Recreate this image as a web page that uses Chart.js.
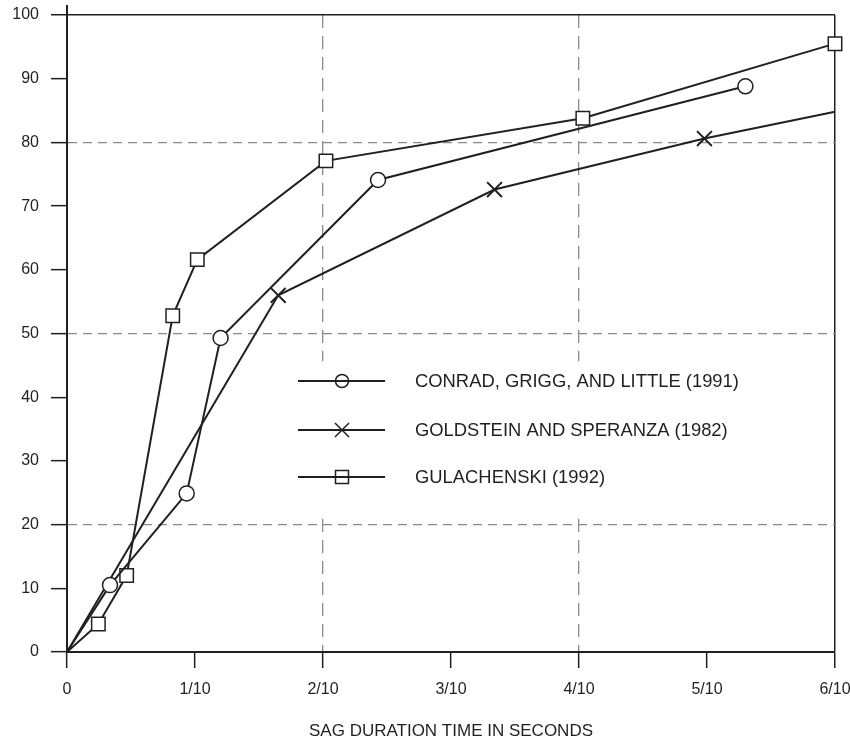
<!DOCTYPE html>
<html>
<head>
<meta charset="utf-8">
<script src="https://cdn.jsdelivr.net/npm/chart.js@4.4.1/dist/chart.umd.min.js"></script>
<style>
  html, body { margin: 0; padding: 0; background: #ffffff; }
  #wrap { width: 850px; height: 740px; position: relative; }
</style>
</head>
<body>
<div id="wrap"><canvas id="c"></canvas></div>
<script>
// ---- Data ----
const seriesNames = [
  'CONRAD, GRIGG, AND LITTLE (1991)',
  'GOLDSTEIN AND SPERANZA (1982)',
  'GULACHENSKI (1992)'
];
const conradX = [0, 0.0336, 0.0935, 0.120, 0.243, 0.530];
const conradY = [0, 10.5, 24.9, 49.3, 74.1, 88.8];

const goldsteinX = [0, 0.165, 0.334, 0.498, 0.6];
const goldsteinY = [0, 56.0, 72.6, 80.6, 84.8];

const gulachenskiX = [0, 0.0245, 0.0466, 0.0826, 0.1018, 0.2023, 0.403, 0.6];
const gulachenskiY = [0, 4.4, 12.0, 52.8, 61.6, 77.1, 83.8, 95.5];

const xTickLabels = ['0', '1/10', '2/10', '3/10', '4/10', '5/10', '6/10'];
const xDashedTicks = ['2/10', '4/10'];
const yDashedValues = [20, 50, 80];
const xTitle = 'SAG DURATION TIME IN SECONDS';

// ---- Styling ----
const INK = '#231f20';
const GRID = '#8a8a8a';
const FONT = "'Liberation Sans', Arial, Helvetica, sans-serif";

function toPoints(xs, ys) { return xs.map((x, i) => ({ x: x, y: ys[i] })); }

const legendPlugin = {
  id: 'customLegend',
  beforeDatasetsDraw(chart) {
    const ctx = chart.ctx;
    ctx.save();
    ctx.fillStyle = '#ffffff';
    ctx.fillRect(290, 361, 440, 157);
    ctx.restore();
  },
  afterDraw(chart) {
    const ctx = chart.ctx;
    const area = chart.chartArea;
    ctx.save();
    ctx.strokeStyle = INK;
    ctx.lineWidth = 2;
    ctx.beginPath();
    ctx.moveTo(area.left, area.top - 10);
    ctx.lineTo(area.left, area.top);
    ctx.stroke();

    const rows = [381, 430, 477];
    const styles = ['circle', 'crossRot', 'rect'];
    ctx.font = '18.4px ' + FONT;
    ctx.textBaseline = 'middle';
    ctx.textAlign = 'left';
    rows.forEach((y, i) => {
      ctx.strokeStyle = INK;
      ctx.lineWidth = 2;
      ctx.beginPath();
      ctx.moveTo(298, y);
      ctx.lineTo(385, y);
      ctx.stroke();
      const mx = 342;
      ctx.lineWidth = 1.5;
      ctx.beginPath();
      if (styles[i] === 'circle') {
        ctx.arc(mx, y, 6.5, 0, Math.PI * 2);
      } else if (styles[i] === 'crossRot') {
        ctx.moveTo(mx - 7, y - 7); ctx.lineTo(mx + 7, y + 7);
        ctx.moveTo(mx - 7, y + 7); ctx.lineTo(mx + 7, y - 7);
      } else {
        ctx.rect(mx - 6.5, y - 6.5, 13, 13);
      }
      ctx.stroke();
      ctx.fillStyle = INK;
      ctx.fillText(seriesNames[i], 415, y + 1);
    });
    ctx.restore();
  }
};

const commonDs = {
  showLine: true,
  borderColor: INK,
  borderWidth: 2,
  tension: 0,
  pointBorderColor: INK,
  pointBackgroundColor: '#ffffff',
  pointBorderWidth: 1.5,
  clip: false
};

const chart = new Chart(document.getElementById('c'), {
  type: 'scatter',
  data: {
    datasets: [
      Object.assign({}, commonDs, {
        label: seriesNames[0],
        data: toPoints(conradX, conradY),
        pointStyle: 'circle',
        pointRadius: ctx => ctx.dataIndex === 0 ? 0 : 7.5
      }),
      Object.assign({}, commonDs, {
        label: seriesNames[1],
        data: toPoints(goldsteinX, goldsteinY),
        pointStyle: 'crossRot',
        pointBorderWidth: 2,
        pointRadius: ctx => (ctx.dataIndex === 0 || ctx.dataIndex === goldsteinX.length - 1) ? 0 : 10.5
      }),
      Object.assign({}, commonDs, {
        label: seriesNames[2],
        data: toPoints(gulachenskiX, gulachenskiY),
        pointStyle: 'rect',
        pointRadius: ctx => ctx.dataIndex === 0 ? 0 : 9.5
      })
    ]
  },
  options: {
    responsive: true,
    maintainAspectRatio: false,
    animation: false,
    layout: { padding: { top: 15, right: 15, left: 0, bottom: 0 } },
    plugins: {
      legend: { display: false },
      tooltip: { enabled: false }
    },
    scales: {
      x: {
        type: 'linear',
        min: 0,
        max: 0.6,
        afterFit: s => { s.height = 88; s.paddingLeft = 0; s.paddingRight = 0; },
        ticks: {
          stepSize: 0.1,
          autoSkip: false,
          maxRotation: 0,
          padding: 12,
          color: INK,
          font: { family: FONT, size: 16 },
          callback: (v, i) => xTickLabels[i]
        },
        grid: {
          color: ctx => {
            const lbl = xTickLabels[ctx.index];
            if (xDashedTicks.includes(lbl)) return GRID;
            if (ctx.index === xTickLabels.length - 1) return INK;
            return 'rgba(0,0,0,0)';
          },
          lineWidth: ctx => ctx.index === xTickLabels.length - 1 ? 1.5 : 1.3,
          tickColor: INK,
          tickLength: 16,
          tickWidth: 1.5
        },
        border: {
          display: true,
          color: INK,
          width: 2,
          dash: ctx => (ctx.index !== undefined && xDashedTicks.includes(xTickLabels[ctx.index])) ? [13, 8] : []
        },
        title: {
          display: true,
          text: xTitle,
          color: INK,
          font: { family: FONT, size: 17, lineHeight: 1.0 },
          padding: { top: 0, bottom: 0 }
        }
      },
      y: {
        type: 'linear',
        min: 0,
        max: 100,
        afterFit: s => { s.width = 67; s.paddingTop = 0; s.paddingBottom = 0; },
        ticks: {
          stepSize: 10,
          padding: 12,
          color: INK,
          font: { family: FONT, size: 16 }
        },
        grid: {
          color: ctx => {
            const v = ctx.tick ? ctx.tick.value : null;
            if (yDashedValues.includes(v)) return GRID;
            if (v === 100) return INK;
            return 'rgba(0,0,0,0)';
          },
          lineWidth: ctx => (ctx.tick && ctx.tick.value === 100) ? 1.5 : 1.3,
          tickColor: INK,
          tickLength: 16,
          tickWidth: 1.5
        },
        border: {
          display: true,
          color: INK,
          width: 2,
          dash: ctx => (ctx.tick && yDashedValues.includes(ctx.tick.value)) ? [9, 6] : []
        }
      }
    }
  },
  plugins: [legendPlugin]
});
</script>
</body>
</html>
